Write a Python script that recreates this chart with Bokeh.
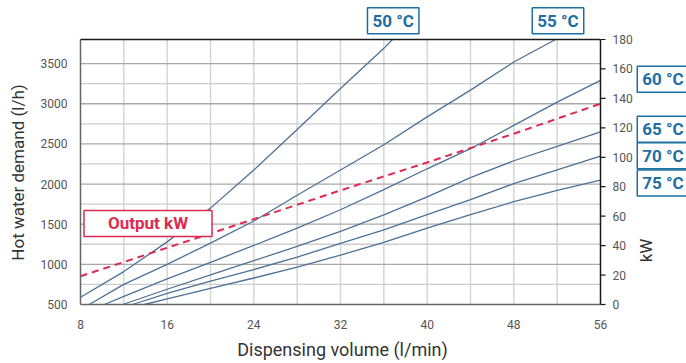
from math import pi

from bokeh.core.properties import value
from bokeh.embed import file_html
from bokeh.resources import INLINE
from bokeh.plotting import figure
from bokeh.models import Range1d, Label

# Dispensing volume (l/min) vs hot water demand (l/h) per storage temperature
x_50 = [8, 12, 16, 20, 24, 28, 32, 36, 36.8]
y_50 = [590, 910, 1280, 1700, 2175, 2680, 3190, 3690, 3800]

x_55 = [8.8, 12, 16, 20, 24, 28, 32, 36, 40, 44, 48, 51.85]
y_55 = [500, 750, 1000, 1265, 1540, 1860, 2175, 2490, 2836, 3170, 3520, 3800]

x_60 = [10.2, 12, 16, 20, 24, 28, 32, 36, 40, 44, 48, 52, 56]
y_60 = [500, 600, 820, 1025, 1235, 1450, 1680, 1930, 2190, 2440, 2730, 3020, 3290]

x_65 = [11.9, 16, 20, 24, 28, 32, 36, 40, 44, 48, 52, 56]
y_65 = [500, 690, 870, 1045, 1225, 1410, 1615, 1840, 2080, 2290, 2470, 2650]

x_70 = [12.8, 16, 20, 24, 28, 32, 36, 40, 44, 48, 52, 56]
y_70 = [500, 640, 790, 935, 1090, 1260, 1430, 1620, 1805, 2005, 2175, 2347]

x_75 = [13.9, 16, 20, 24, 28, 32, 36, 40, 44, 48, 52, 56]
y_75 = [500, 570, 700, 830, 965, 1115, 1275, 1450, 1620, 1780, 1920, 2048]

# Heating output (kW), right-hand scale
x_kw = [8, 16, 24, 32, 40, 48, 56]
y_kw = [19.2, 38.5, 58, 77.5, 96.5, 116, 136.4]

x_ticks = [8, 16, 24, 32, 40, 48, 56]
x_grid = [12, 16, 20, 24, 28, 32, 36, 40, 44, 48, 52]
y_ticks = [500, 1000, 1500, 2000, 2500, 3000, 3500]
y_minor = [750, 1250, 1750, 2250, 2750, 3250]
kw_ticks = [0, 20, 40, 60, 80, 100, 120, 140, 160, 180]

X_MIN, X_MAX = 8, 56
Y_MIN, Y_MAX = 500, 3800
KW_MIN, KW_MAX = 0, 180

# canvas and plotting-area geometry (px)
W, H = 686, 363
LEFT, RIGHT, TOP, BOTTOM = 80, 600, 39, 304

FONT = "Roboto"
BLUE_LINE = "#4d7197"
BLUE_TEXT = "#1c6ea4"
RED = "#de2a50"
TICK_TEXT = "#555555"
TITLE_TEXT = "#333333"

# the frame fills the whole canvas; ranges are widened so that the
# plotting area sits at LEFT..RIGHT / TOP..BOTTOM and texts outside it
# are still drawn
ux = (X_MAX - X_MIN) / (RIGHT - LEFT)
uy = (Y_MAX - Y_MIN) / (BOTTOM - TOP)
uk = (KW_MAX - KW_MIN) / (BOTTOM - TOP)

p = figure(width=W, height=H, output_backend="svg", toolbar_location=None,
           x_axis_type=None, y_axis_type=None, min_border=0,
           x_range=Range1d(X_MIN - LEFT * ux, X_MAX + (W - RIGHT) * ux),
           y_range=Range1d(Y_MIN - (H - BOTTOM) * uy, Y_MAX + TOP * uy))
p.extra_y_ranges = {"kw": Range1d(KW_MIN - (H - BOTTOM) * uk,
                                  KW_MAX + TOP * uk)}
p.grid.visible = False
p.outline_line_color = None
p.background_fill_color = "white"
p.border_fill_color = "white"

# grid
p.segment(x0=x_grid, y0=Y_MIN, x1=x_grid, y1=Y_MAX,
          line_color="#d6d6d6", line_width=1.5)
p.segment(x0=X_MIN, y0=y_minor, x1=X_MAX, y1=y_minor,
          line_color="#cdcdcd", line_width=1.3)
p.segment(x0=X_MIN, y0=y_ticks[1:], x1=X_MAX, y1=y_ticks[1:],
          line_color="#a9a9a9", line_width=1.3)

# temperature curves
for xs, ys in ((x_50, y_50), (x_55, y_55), (x_60, y_60),
               (x_65, y_65), (x_70, y_70), (x_75, y_75)):
    p.line(xs, ys, line_color=BLUE_LINE, line_width=1.3)

# output line on the kW scale
p.line(x_kw, y_kw, y_range_name="kw", line_color=RED, line_width=2,
       line_dash="7 5")

# frame: grey left/bottom spines, black top/right
p.segment(x0=[X_MIN, X_MIN], y0=[Y_MIN, Y_MIN], x1=[X_MIN, X_MAX],
          y1=[Y_MAX, Y_MIN], line_color="#666666", line_width=1.5)
p.segment(x0=[X_MIN, X_MAX], y0=[Y_MAX, Y_MIN], x1=[X_MAX, X_MAX],
          y1=[Y_MAX, Y_MAX], line_color="#1a1a1a", line_width=1.5)

# right-hand kW axis ticks
p.segment(x0=X_MAX, y0=kw_ticks, x1=X_MAX + 5 * ux, y1=kw_ticks,
          y_range_name="kw", line_color="#1a1a1a", line_width=1.2)

# tick labels
tick_style = dict(text_font=value(FONT), text_font_size="12px",
                  text_color=TICK_TEXT)
p.text(x=X_MIN, y=y_ticks, text=[str(v) for v in y_ticks], x_offset=-13,
       text_align="right", text_baseline="middle", **tick_style)
p.text(x=x_ticks, y=Y_MIN, text=[str(v) for v in x_ticks], y_offset=20,
       text_align="center", text_baseline="middle", **tick_style)
p.text(x=X_MAX, y=kw_ticks, text=[str(v) for v in kw_ticks], x_offset=12,
       y_range_name="kw", text_align="left", text_baseline="middle",
       **tick_style)

# axis titles (screen px from the bottom-left corner)
def title(text, x, y, angle=0.0, size="17px"):
    p.add_layout(Label(x=x, y=y, x_units="screen", y_units="screen",
                       text=text, angle=angle, text_align="center",
                       text_baseline="middle", text_font=FONT,
                       text_font_size=size, text_color=TITLE_TEXT))

title("Hot water demand (l/h)", 17, H - 172, angle=pi / 2)
title("Dispensing volume (l/min)", 342, H - 349, size="18px")
title("kW", 645, H - 250, angle=pi / 2)

# curve tags
def tag(text, x, y, color, pad=(5, 3)):
    p.add_layout(Label(x=x, y=y, x_units="screen", y_units="screen",
                       text=text, anchor="center",
                       text_font=FONT, text_font_size="17px",
                       text_font_style="bold", text_color=color,
                       background_fill_color="white",
                       border_line_color=color, border_line_width=1.5,
                       padding=pad))

tag("50 °C", 392.7, H - 20.3, BLUE_TEXT)
tag("55 °C", 557.5, H - 20.3, BLUE_TEXT)
tag("60 °C", 662.5, H - 78.8, BLUE_TEXT)
tag("65 °C", 662.5, H - 128.8, BLUE_TEXT)
tag("70 °C", 662.5, H - 155.2, BLUE_TEXT)
tag("75 °C", 662.5, H - 182.5, BLUE_TEXT)
tag("Output kW", 147.5, H - 222.9, RED, pad=(24, 3))

open("out.html", "w").write(file_html(p, INLINE))
